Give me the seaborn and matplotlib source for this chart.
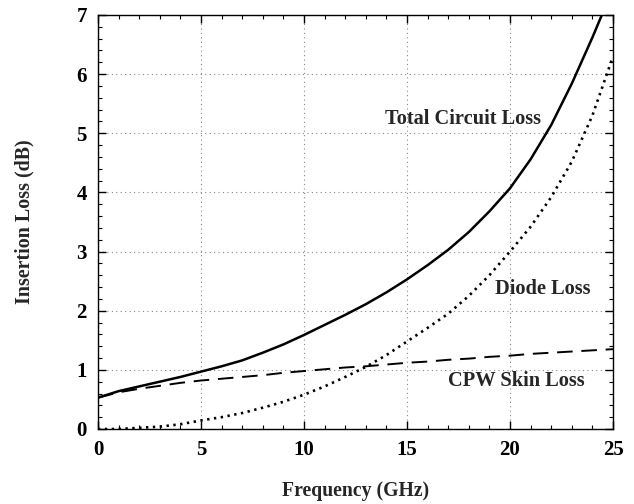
import numpy as np
import pandas as pd
import matplotlib
matplotlib.use("Agg")
import matplotlib.pyplot as plt
import seaborn as sns
from matplotlib.ticker import MultipleLocator

# Frequency sweep (GHz)
freq = [0, 1, 2, 3, 4, 5, 6, 7, 8, 9, 10, 11, 12, 13, 14, 15, 16, 17, 18, 19, 20, 21, 22, 23, 24, 25]

# Insertion loss components (dB)
total_loss = [0.53, 0.64, 0.72, 0.80, 0.88, 0.97, 1.06, 1.16, 1.29, 1.43, 1.59, 1.76, 1.93, 2.11, 2.31,
              2.53, 2.77, 3.03, 3.33, 3.68, 4.07, 4.56, 5.14, 5.84, 6.62, 7.45]
diode_loss = [0.00, 0.00, 0.02, 0.04, 0.08, 0.145, 0.20, 0.27, 0.36, 0.46, 0.58, 0.72, 0.88, 1.05, 1.25,
              1.48, 1.71, 1.95, 2.25, 2.60, 3.00, 3.42, 3.92, 4.52, 5.30, 6.30]
cpw_loss = [0.53, 0.62, 0.68, 0.73, 0.78, 0.82, 0.85, 0.88, 0.91, 0.95, 0.98, 1.01, 1.04, 1.06, 1.09,
            1.12, 1.14, 1.17, 1.19, 1.22, 1.24, 1.27, 1.29, 1.31, 1.33, 1.35]

labels = ["Total Circuit Loss", "Diode Loss", "CPW Skin Loss"]
label_pos = [(17.7, 5.25), (21.6, 2.37), (20.3, 0.82)]

df = pd.DataFrame({"freq": freq, "total": total_loss, "diode": diode_loss, "cpw": cpw_loss})

sns.set_style("ticks")
plt.rcParams["font.family"] = ["Liberation Serif", "DejaVu Serif"]
plt.rcParams["font.weight"] = "bold"

fig = plt.figure(figsize=(6.34, 5.04), dpi=100)
ax = fig.add_axes([98 / 634, 1 - 429 / 504, 515 / 634, 414 / 504])

sns.lineplot(data=df, x="freq", y="total", ax=ax, color="black", linewidth=1.8, linestyle="-")
sns.lineplot(data=df, x="freq", y="diode", ax=ax, color="black", linewidth=1.9,
             linestyle=(0, (0.9, 1.7)))
sns.lineplot(data=df, x="freq", y="cpw", ax=ax, color="black", linewidth=1.4,
             linestyle=(0, (8, 4.5)))

ax.set_xlim(0, 25)
ax.set_ylim(0, 7)
ax.xaxis.set_major_locator(MultipleLocator(5))
ax.xaxis.set_minor_locator(MultipleLocator(1))
ax.yaxis.set_major_locator(MultipleLocator(1))
ax.yaxis.set_minor_locator(MultipleLocator(0.2))

ax.grid(True, which="major", color="#888888", linestyle=(0, (1, 3)), linewidth=0.8)
ax.tick_params(which="both", direction="in", top=True, right=True, colors="black")
ax.tick_params(which="major", length=6, width=1, labelsize=15, pad=8)
ax.tick_params(which="minor", length=3, width=0.8)
for lab in ax.get_xticklabels() + ax.get_yticklabels():
    lab.set_fontweight("bold")
for sp in ax.spines.values():
    sp.set_color("black")
    sp.set_linewidth(1.0)

ax.set_xlabel("Frequency (GHz)", fontsize=14.2, fontweight="bold", labelpad=15)
ax.set_ylabel("Insertion Loss (dB)", fontsize=14.4, fontweight="bold", labelpad=30)

for text, (x, y) in zip(labels, label_pos):
    ax.text(x, y, text, fontsize=14.7, fontweight="bold", ha="center", va="center")

fig.savefig("out.png", dpi=100)
